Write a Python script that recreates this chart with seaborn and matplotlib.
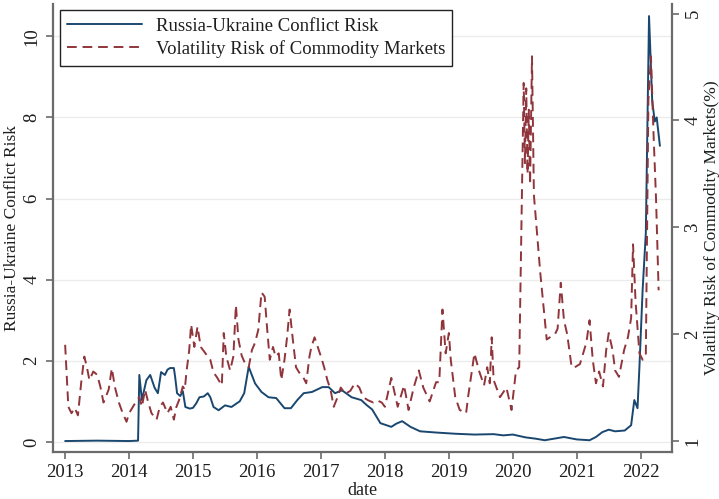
import matplotlib
matplotlib.use("Agg")
import matplotlib.pyplot as plt
import seaborn as sns
import pandas as pd

# Russia-Ukraine conflict risk index (left axis), time in decimal years
ru_t = [2013.00, 2013.50, 2014.00, 2014.14, 2014.16, 2014.20, 2014.27, 2014.33,
        2014.40, 2014.45, 2014.50, 2014.56, 2014.60, 2014.64, 2014.70, 2014.72,
        2014.75, 2014.80, 2014.84, 2014.88, 2014.95, 2015.00, 2015.05, 2015.10,
        2015.17, 2015.23, 2015.27, 2015.32, 2015.40, 2015.50, 2015.60, 2015.73,
        2015.80, 2015.87, 2015.97, 2016.07, 2016.18, 2016.30, 2016.43, 2016.53,
        2016.63, 2016.73, 2016.86, 2017.02, 2017.12, 2017.22, 2017.33, 2017.48,
        2017.63, 2017.72, 2017.80, 2017.93, 2018.10, 2018.18, 2018.27, 2018.40,
        2018.55, 2018.80, 2019.10, 2019.40, 2019.70, 2019.85, 2020.00, 2020.20,
        2020.35, 2020.50, 2020.80, 2021.00, 2021.20, 2021.30, 2021.40, 2021.50,
        2021.60, 2021.75, 2021.85, 2021.90, 2021.95, 2021.98, 2022.03, 2022.08,
        2022.13, 2022.18, 2022.22, 2022.25, 2022.30]
ru_v = [0.02, 0.03, 0.02, 0.03, 1.65, 1.03, 1.52, 1.65,
        1.33, 1.20, 1.72, 1.65, 1.78, 1.82, 1.82, 1.60,
        1.20, 1.13, 1.25, 0.86, 0.82, 0.84, 0.95, 1.10,
        1.12, 1.20, 1.10, 0.86, 0.78, 0.90, 0.86, 1.00,
        1.20, 1.85, 1.44, 1.23, 1.10, 1.08, 0.83, 0.83,
        1.03, 1.20, 1.23, 1.35, 1.35, 1.20, 1.27, 1.10,
        1.03, 0.90, 0.80, 0.46, 0.37, 0.45, 0.51, 0.37,
        0.26, 0.23, 0.20, 0.18, 0.19, 0.16, 0.18, 0.11,
        0.08, 0.04, 0.12, 0.06, 0.04, 0.12, 0.24, 0.30,
        0.26, 0.28, 0.41, 1.03, 0.83, 1.85, 3.75, 5.15,
        10.50, 8.40, 7.90, 8.00, 7.30]

# Commodity market volatility risk in percent (right axis)
vol_t = [2013.00, 2013.05, 2013.10, 2013.15, 2013.20, 2013.25, 2013.30, 2013.34,
         2013.38, 2013.44, 2013.50, 2013.55, 2013.60, 2013.68, 2013.73, 2013.78,
         2013.84, 2013.90, 2013.96, 2014.00, 2014.06, 2014.10, 2014.16, 2014.20,
         2014.25, 2014.30, 2014.35, 2014.43, 2014.48, 2014.53, 2014.60, 2014.65,
         2014.70, 2014.74, 2014.78, 2014.84, 2014.87, 2014.90, 2014.94, 2014.97,
         2015.02, 2015.07, 2015.12, 2015.17, 2015.23, 2015.27, 2015.32, 2015.37,
         2015.45, 2015.48, 2015.52, 2015.58, 2015.63, 2015.67, 2015.71, 2015.76,
         2015.81, 2015.87, 2015.92, 2015.97, 2016.02, 2016.07, 2016.12, 2016.16,
         2016.20, 2016.25, 2016.29, 2016.34, 2016.38, 2016.43, 2016.47, 2016.51,
         2016.56, 2016.61, 2016.66, 2016.72, 2016.77, 2016.82, 2016.85, 2016.90,
         2016.95, 2017.00, 2017.05, 2017.10, 2017.15, 2017.20, 2017.26, 2017.31,
         2017.38, 2017.46, 2017.53, 2017.60, 2017.66, 2017.74, 2017.82, 2017.88,
         2017.95, 2018.00, 2018.10, 2018.20, 2018.30, 2018.37, 2018.45, 2018.53,
         2018.60, 2018.70, 2018.80, 2018.85, 2018.90, 2018.95, 2019.00, 2019.03,
         2019.10, 2019.17, 2019.27, 2019.30, 2019.40, 2019.47, 2019.55, 2019.60,
         2019.64, 2019.67, 2019.70, 2019.80, 2019.90, 2019.98, 2020.05, 2020.10,
         2020.17, 2020.19, 2020.21, 2020.23, 2020.25, 2020.27, 2020.30, 2020.33,
         2020.43, 2020.53, 2020.58, 2020.66, 2020.70, 2020.75, 2020.80, 2020.85,
         2020.92, 2020.97, 2021.05, 2021.15, 2021.20, 2021.25, 2021.30, 2021.35,
         2021.41, 2021.46, 2021.50, 2021.56, 2021.60, 2021.66, 2021.74, 2021.80,
         2021.85, 2021.88, 2021.92, 2021.98, 2022.03, 2022.08, 2022.12, 2022.16,
         2022.20, 2022.24, 2022.28]
vol_v = [1.90, 1.32, 1.26, 1.31, 1.24, 1.54, 1.79, 1.69,
         1.57, 1.65, 1.62, 1.51, 1.36, 1.48, 1.68, 1.50,
         1.36, 1.26, 1.18, 1.26, 1.32, 1.36, 1.41, 1.32,
         1.48, 1.36, 1.26, 1.20, 1.32, 1.36, 1.26, 1.32,
         1.20, 1.32, 1.38, 1.51, 1.48, 1.66, 1.85, 2.09,
         1.88, 2.07, 1.88, 1.84, 1.79, 1.76, 1.64, 1.60,
         1.52, 2.01, 1.79, 1.66, 1.79, 2.27, 1.95, 1.80,
         1.73, 1.69, 1.85, 1.92, 2.04, 2.39, 2.35, 2.04,
         1.76, 1.88, 1.79, 1.82, 1.57, 1.76, 1.97, 2.23,
         1.95, 1.69, 1.64, 1.60, 1.54, 1.79, 1.88, 1.97,
         1.88, 1.79, 1.69, 1.57, 1.48, 1.32, 1.41, 1.50,
         1.44, 1.47, 1.54, 1.50, 1.41, 1.38, 1.36, 1.38,
         1.36, 1.32, 1.59, 1.32, 1.52, 1.29, 1.50, 1.66,
         1.50, 1.37, 1.55, 1.55, 2.23, 1.82, 2.01, 1.76,
         1.41, 1.29, 1.26, 1.41, 1.82, 1.66, 1.52, 1.69,
         1.54, 1.97, 1.57, 1.41, 1.50, 1.29, 1.66, 1.69,
         4.35, 3.60, 4.30, 3.50, 4.10, 3.40, 4.60, 3.30,
         2.57, 1.95, 1.97, 2.00, 2.05, 2.48, 2.13, 2.00,
         1.69, 1.69, 1.72, 1.92, 2.13, 1.76, 1.54, 1.65,
         1.51, 1.85, 2.01, 1.85, 1.66, 1.60, 1.85, 1.97,
         2.15, 2.84, 2.30, 1.82, 1.76, 1.80, 4.19, 4.60,
         3.88, 3.26, 2.41]

year_ticks = [2013, 2014, 2015, 2016, 2017, 2018, 2019, 2020, 2021, 2022]
left_ticks = [0, 2, 4, 6, 8, 10]
right_ticks = [1, 2, 3, 4, 5]

BLUE = "#1a476f"
RED = "#90353b"
SPINE = "#6b6b6b"
TEXT = "#1e1e1e"

sns.set_style("white")
plt.rcParams["font.family"] = ["Liberation Serif", "DejaVu Serif"]
plt.rcParams["font.size"] = 12.5
plt.rcParams["text.color"] = TEXT
plt.rcParams["axes.labelcolor"] = TEXT
plt.rcParams["xtick.color"] = TEXT
plt.rcParams["ytick.color"] = TEXT

ru = pd.DataFrame({"t": ru_t, "v": ru_v})
vol = pd.DataFrame({"t": vol_t, "v": vol_v})

fig = plt.figure(figsize=(7.19, 4.99), dpi=100)
ax1 = fig.add_axes([0.0737, 0.0942, 0.861, 0.898])
ax2 = ax1.twinx()

sns.lineplot(data=ru, x="t", y="v", ax=ax1, color=BLUE, lw=1.4,
             label="Russia-Ukraine Conflict Risk", legend=False)
sns.lineplot(data=vol, x="t", y="v", ax=ax2, color=RED, lw=1.4,
             linestyle=(0, (5, 3)),
             label="Volatility Risk of Commodity Markets", legend=False)

ax1.set_xlim(2012.81, 2022.49)
ax1.set_ylim(-0.25, 10.8)
ax2.set_ylim(0.897, 5.09)

ax1.set_xticks(year_ticks)
ax1.set_xticklabels([str(y) for y in year_ticks])
ax1.set_yticks(left_ticks)
ax2.set_yticks(right_ticks)

ax1.yaxis.grid(True, color="#ececec", lw=1.0)
ax1.xaxis.grid(False)
ax1.set_axisbelow(True)

for ax in (ax1, ax2):
    for s in ax.spines.values():
        s.set_visible(False)
ax1.spines["left"].set_visible(True)
ax1.spines["bottom"].set_visible(True)
ax2.spines["right"].set_visible(True)
for s in (ax1.spines["left"], ax1.spines["bottom"], ax2.spines["right"]):
    s.set_color(SPINE)
    s.set_linewidth(1.6)

TICK_FS = 13.5
ax1.tick_params(axis="x", direction="out", length=5, width=1.2, color=SPINE,
                bottom=True, labelsize=TICK_FS, pad=4)
ax1.tick_params(axis="y", direction="out", length=5, width=1.2, color=SPINE,
                left=True, labelsize=TICK_FS, labelrotation=90, pad=4)
ax2.tick_params(axis="y", direction="out", length=5, width=1.2, color=SPINE,
                right=True, labelsize=TICK_FS, labelrotation=90, pad=4)
for lab in ax1.get_yticklabels() + ax2.get_yticklabels():
    lab.set_va("center")

ax1.set_xlabel("date", fontsize=13)
ax1.xaxis.set_label_coords(0.5, -0.086)
ax1.xaxis.label.set_va("center")
ax1.set_ylabel("Russia-Ukraine Conflict Risk", fontsize=12.5)
ax1.yaxis.set_label_coords(-0.066, 0.5)
ax1.yaxis.label.set_va("center")
ax2.set_ylabel("Volatility Risk of Commodity Markets(%)", fontsize=12.5)
ax2.yaxis.set_label_coords(1.0 + 40.0 / 619.0, 0.5)
ax2.yaxis.label.set_va("center")

h1, l1 = ax1.get_legend_handles_labels()
h2, l2 = ax2.get_legend_handles_labels()
leg = ax2.legend(h1 + h2, l1 + l2, loc="upper left",
                 bbox_to_anchor=(0.0113, 0.9866), borderaxespad=0,
                 fontsize=13.5, handlelength=4.0, handletextpad=0.7,
                 labelspacing=0.3, borderpad=0.4, fancybox=False,
                 framealpha=1, edgecolor="#222222")
leg.get_frame().set_linewidth(1.0)

fig.savefig("out.png", dpi=100)
